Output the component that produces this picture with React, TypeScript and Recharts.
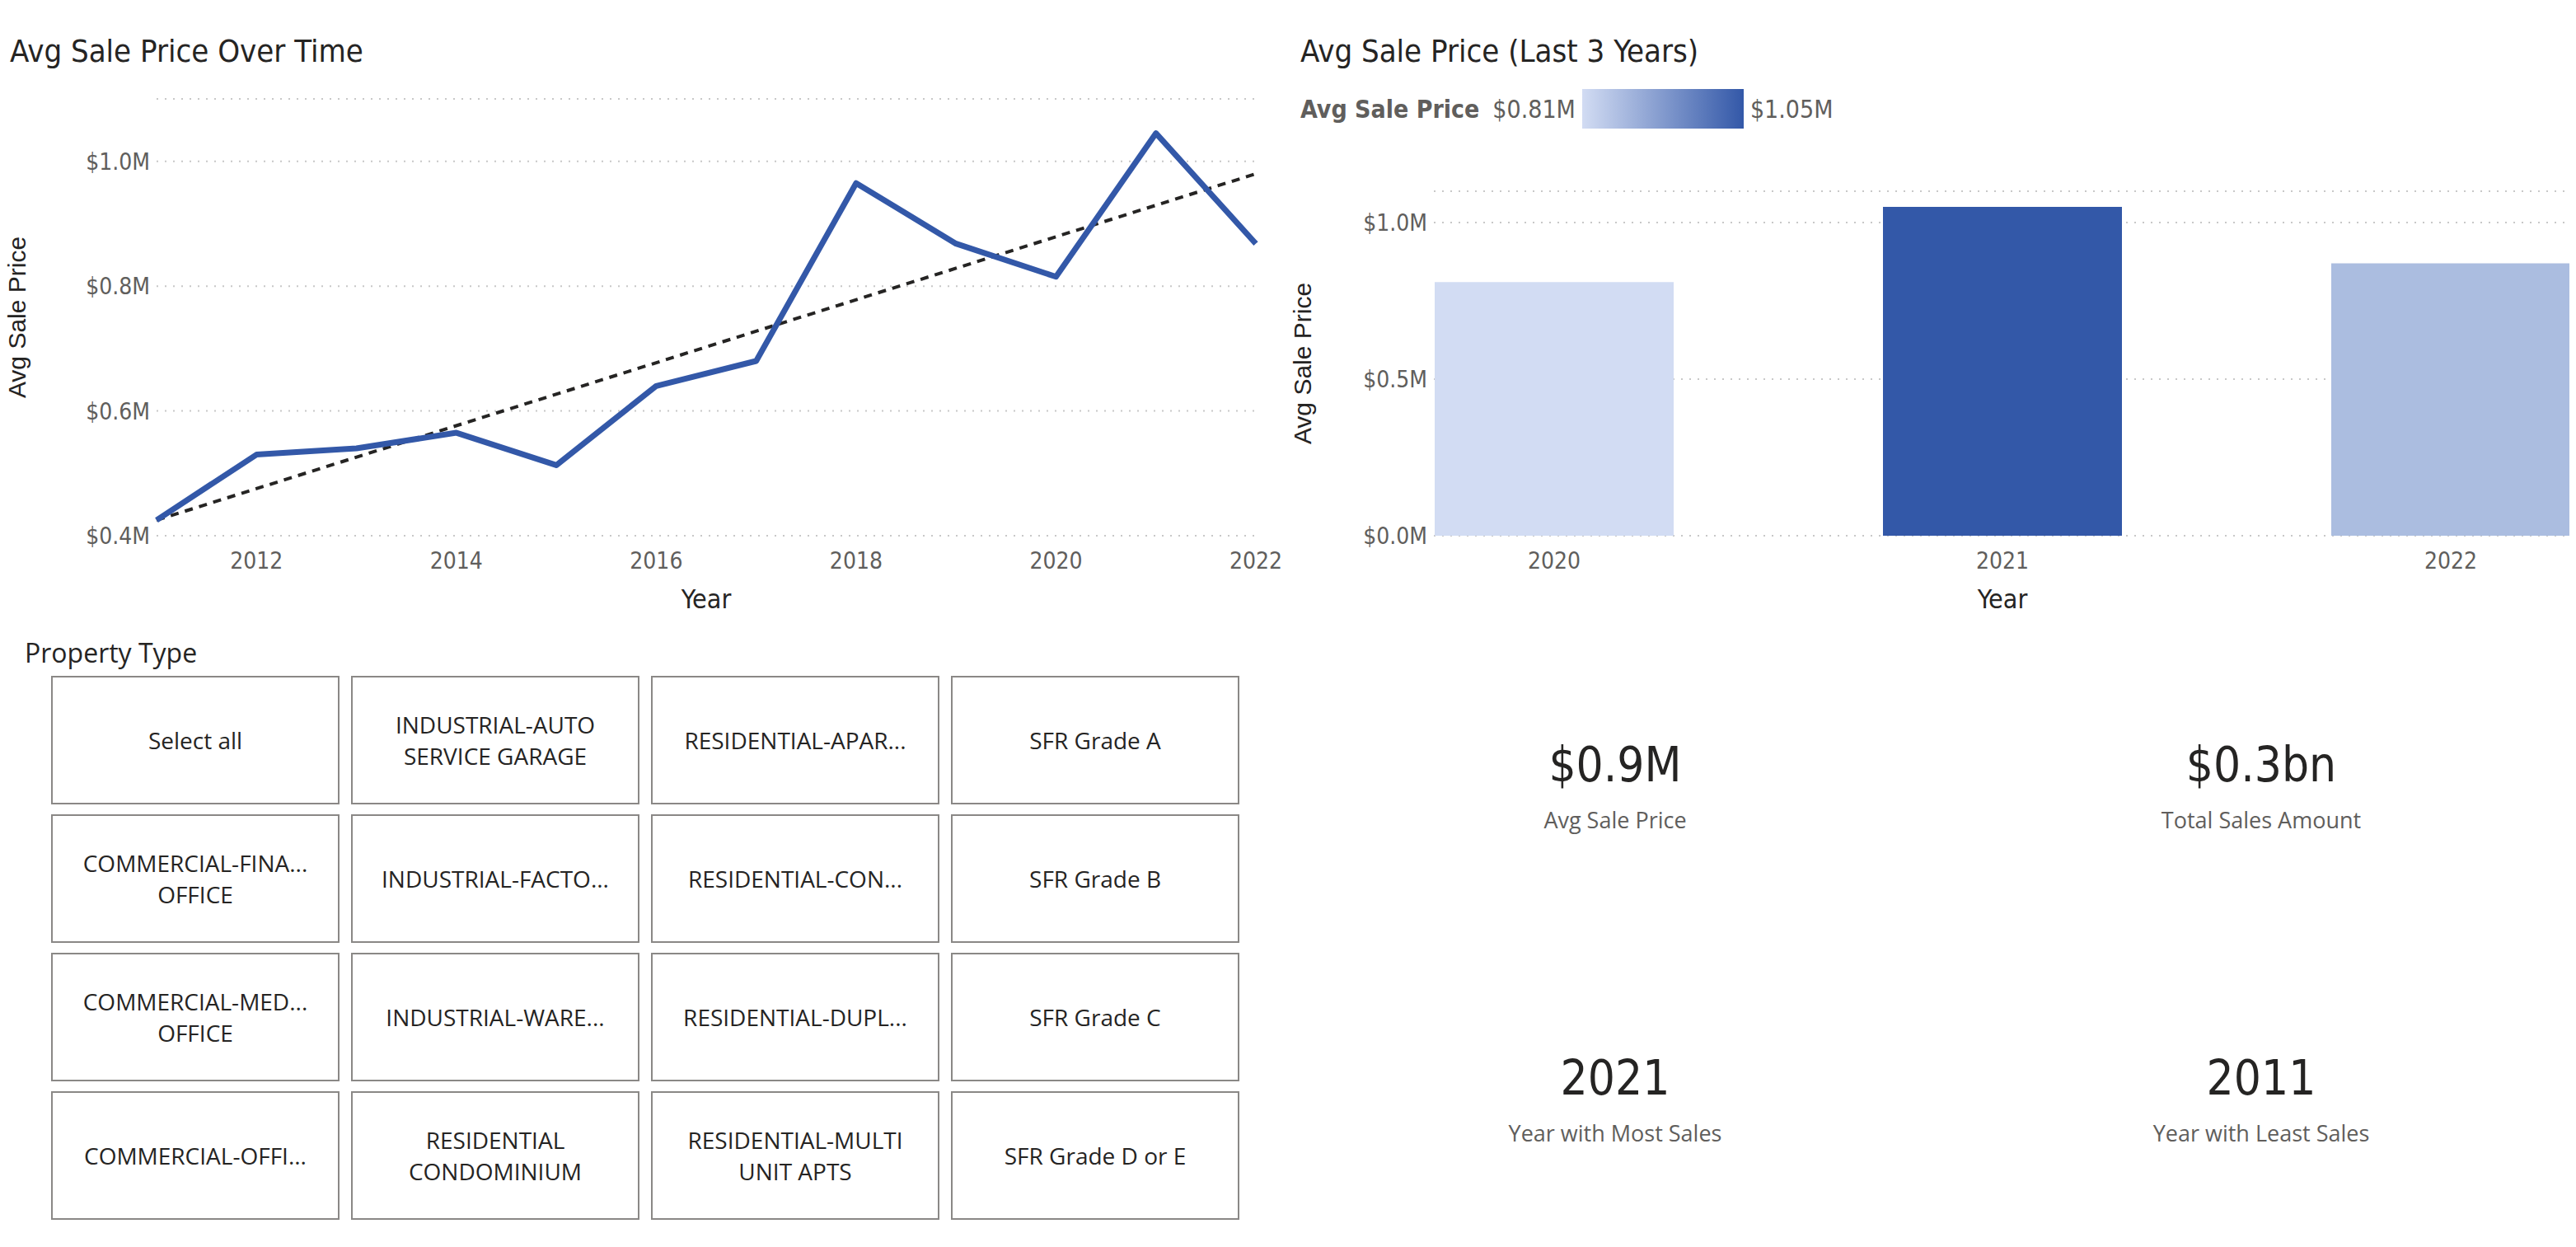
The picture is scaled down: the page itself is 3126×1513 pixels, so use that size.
import React from "react";
import { LineChart, Line, XAxis, YAxis, CartesianGrid, BarChart, Bar, Cell, Label } from "recharts";

const years = [2011, 2012, 2013, 2014, 2015, 2016, 2017, 2018, 2019, 2020, 2021, 2022];
const avgPrice = [0.425, 0.53, 0.54, 0.565, 0.513, 0.64, 0.68, 0.965, 0.868, 0.815, 1.045, 0.868];
const trend = [0.425, null, null, null, null, null, null, null, null, null, null, 0.98];
const lineTicks = [0.4, 0.6, 0.8, 1.0];
const yearTicks = [2012, 2014, 2016, 2018, 2020, 2022];

const barYears = ["2020", "2021", "2022"];
const barValues = [0.81, 1.05, 0.87];
const barColors = ["#D2DCF3", "#3358A8", "#ABBDE0"];
const barTicks = [0, 0.5, 1.0];

const slicerItems = [
  ["Select all", "INDUSTRIAL-AUTO\nSERVICE GARAGE", "RESIDENTIAL-APAR...", "SFR Grade A"],
  ["COMMERCIAL-FINA...\nOFFICE", "INDUSTRIAL-FACTO...", "RESIDENTIAL-CON...", "SFR Grade B"],
  ["COMMERCIAL-MED...\nOFFICE", "INDUSTRIAL-WARE...", "RESIDENTIAL-DUPL...", "SFR Grade C"],
  ["COMMERCIAL-OFFI...", "RESIDENTIAL\nCONDOMINIUM", "RESIDENTIAL-MULTI\nUNIT APTS", "SFR Grade D or E"],
];

const kpis = [
  { value: "$0.9M", label: "Avg Sale Price", x: 1960, y: 930 },
  { value: "$0.3bn", label: "Total Sales Amount", x: 2744, y: 930 },
  { value: "2021", label: "Year with Most Sales", x: 1960, y: 1310 },
  { value: "2011", label: "Year with Least Sales", x: 2744, y: 1310 },
];

const lineData = years.map((y, i) => ({ year: y, price: avgPrice[i], trend: trend[i] }));
const barData = barYears.map((y, i) => ({ year: y, price: barValues[i] }));

const COND = "'DejaVu Sans Condensed', 'DejaVu Sans', sans-serif";
const fmtM = (v: number) => `$${v.toFixed(1)}M`;

export default function App() {
  return (
    <div style={{ position: "relative", width: 3126, height: 1513, margin: -8, background: "#fff", overflow: "hidden", fontFamily: COND }}>
      <div style={{ position: "absolute", left: 12, top: 40, fontSize: 38, color: "#252423" }}>Avg Sale Price Over Time</div>
      <div style={{ position: "absolute", left: 0, top: 0 }}>
        <LineChart width={1560} height={760} data={lineData} margin={{ top: 120, right: 36, left: 90, bottom: 0 }}>
          <CartesianGrid horizontal vertical={false} stroke="#c8c8c8" strokeDasharray="2 8" strokeWidth={2} />
          <XAxis dataKey="year" type="number" domain={[2011, 2022]} ticks={yearTicks} axisLine={false} tickLine={false}
            height={110} tick={{ fontSize: 28, fill: "#605E5C", fontFamily: COND }} tickMargin={14}>
            <Label value="Year" position="insideBottom" offset={22} style={{ fontSize: 32, fill: "#252423", fontFamily: COND }} />
          </XAxis>
          <YAxis type="number" domain={[0.4, 1.1]} ticks={lineTicks} tickFormatter={fmtM} axisLine={false} tickLine={false}
            width={100} tick={{ fontSize: 28, fill: "#605E5C", fontFamily: COND }}>
            <Label value="Avg Sale Price" angle={-90} position="insideLeft" offset={-70} style={{ fontSize: 30, fill: "#252423", fontFamily: "'Liberation Sans', Arial, sans-serif", textAnchor: "middle" }} />
          </YAxis>
          <Line dataKey="trend" stroke="#252423" strokeWidth={4} strokeDasharray="10 8" dot={false} connectNulls isAnimationActive={false} />
          <Line dataKey="price" stroke="#3358A8" strokeWidth={7} dot={false} isAnimationActive={false} strokeLinejoin="round" />
        </LineChart>
      </div>

      <div style={{ position: "absolute", left: 1578, top: 40, fontSize: 38, color: "#252423" }}>Avg Sale Price (Last 3 Years)</div>
      <div style={{ position: "absolute", left: 1578, top: 108, display: "flex", alignItems: "center", fontSize: 30 }}>
        <span style={{ fontWeight: "bold", color: "#605E5C" }}>Avg Sale Price</span>
        <span style={{ color: "#605E5C", marginLeft: 16 }}>$0.81M</span>
        <span style={{ display: "inline-block", width: 196, height: 48, marginLeft: 8, marginRight: 8, background: "linear-gradient(to right, #D2DCF3, #3358A8)" }} />
        <span style={{ color: "#605E5C" }}>$1.05M</span>
      </div>
      <div style={{ position: "absolute", left: 1563, top: 0 }}>
        <BarChart width={1563} height={760} data={barData} margin={{ top: 232, right: 6, left: 77, bottom: 0 }} barSize={290}>
          <CartesianGrid horizontal vertical={false} stroke="#c8c8c8" strokeDasharray="2 8" strokeWidth={2} />
          <XAxis dataKey="year" axisLine={false} tickLine={false} height={110} padding={{ left: -126, right: -126 }}
            tick={{ fontSize: 28, fill: "#605E5C", fontFamily: COND }} tickMargin={14}>
            <Label value="Year" position="insideBottom" offset={22} style={{ fontSize: 32, fill: "#252423", fontFamily: COND }} />
          </XAxis>
          <YAxis type="number" domain={[0, 1.1]} ticks={barTicks} tickFormatter={fmtM} axisLine={false} tickLine={false}
            width={100} tick={{ fontSize: 28, fill: "#605E5C", fontFamily: COND }}>
            <Label value="Avg Sale Price" angle={-90} position="insideLeft" offset={-60} style={{ fontSize: 30, fill: "#252423", fontFamily: "'Liberation Sans', Arial, sans-serif", textAnchor: "middle" }} />
          </YAxis>
          <Bar dataKey="price" isAnimationActive={false}>
            {barData.map((d, i) => <Cell key={d.year} fill={barColors[i]} />)}
          </Bar>
        </BarChart>
      </div>

      <div style={{ position: "absolute", left: 30, top: 770, fontSize: 32, color: "#252423", fontFamily: "'Open Sans', sans-serif" }}>Property Type</div>
      {slicerItems.map((row, r) =>
        row.map((txt, c) => (
          <div key={`${r}-${c}`} style={{
            position: "absolute", left: 62 + c * 364, top: 820 + r * 168, width: 350, height: 156,
            border: "2px solid #8a8886", boxSizing: "border-box", display: "flex", alignItems: "center", justifyContent: "center",
            textAlign: "center", whiteSpace: "pre-line", fontSize: 28, lineHeight: "38px", color: "#252423", fontFamily: "'Open Sans', sans-serif",
          }}>{txt}</div>
        ))
      )}

      {kpis.map((k) => (
        <React.Fragment key={k.label}>
          <div style={{ position: "absolute", left: k.x - 300, width: 600, top: k.y - 36, textAlign: "center", fontSize: 58, color: "#252423" }}>{k.value}</div>
          <div style={{ position: "absolute", left: k.x - 300, width: 600, top: k.y + 46, textAlign: "center", fontSize: 27, color: "#605E5C", fontFamily: "'Open Sans', sans-serif" }}>{k.label}</div>
        </React.Fragment>
      ))}
    </div>
  );
}
